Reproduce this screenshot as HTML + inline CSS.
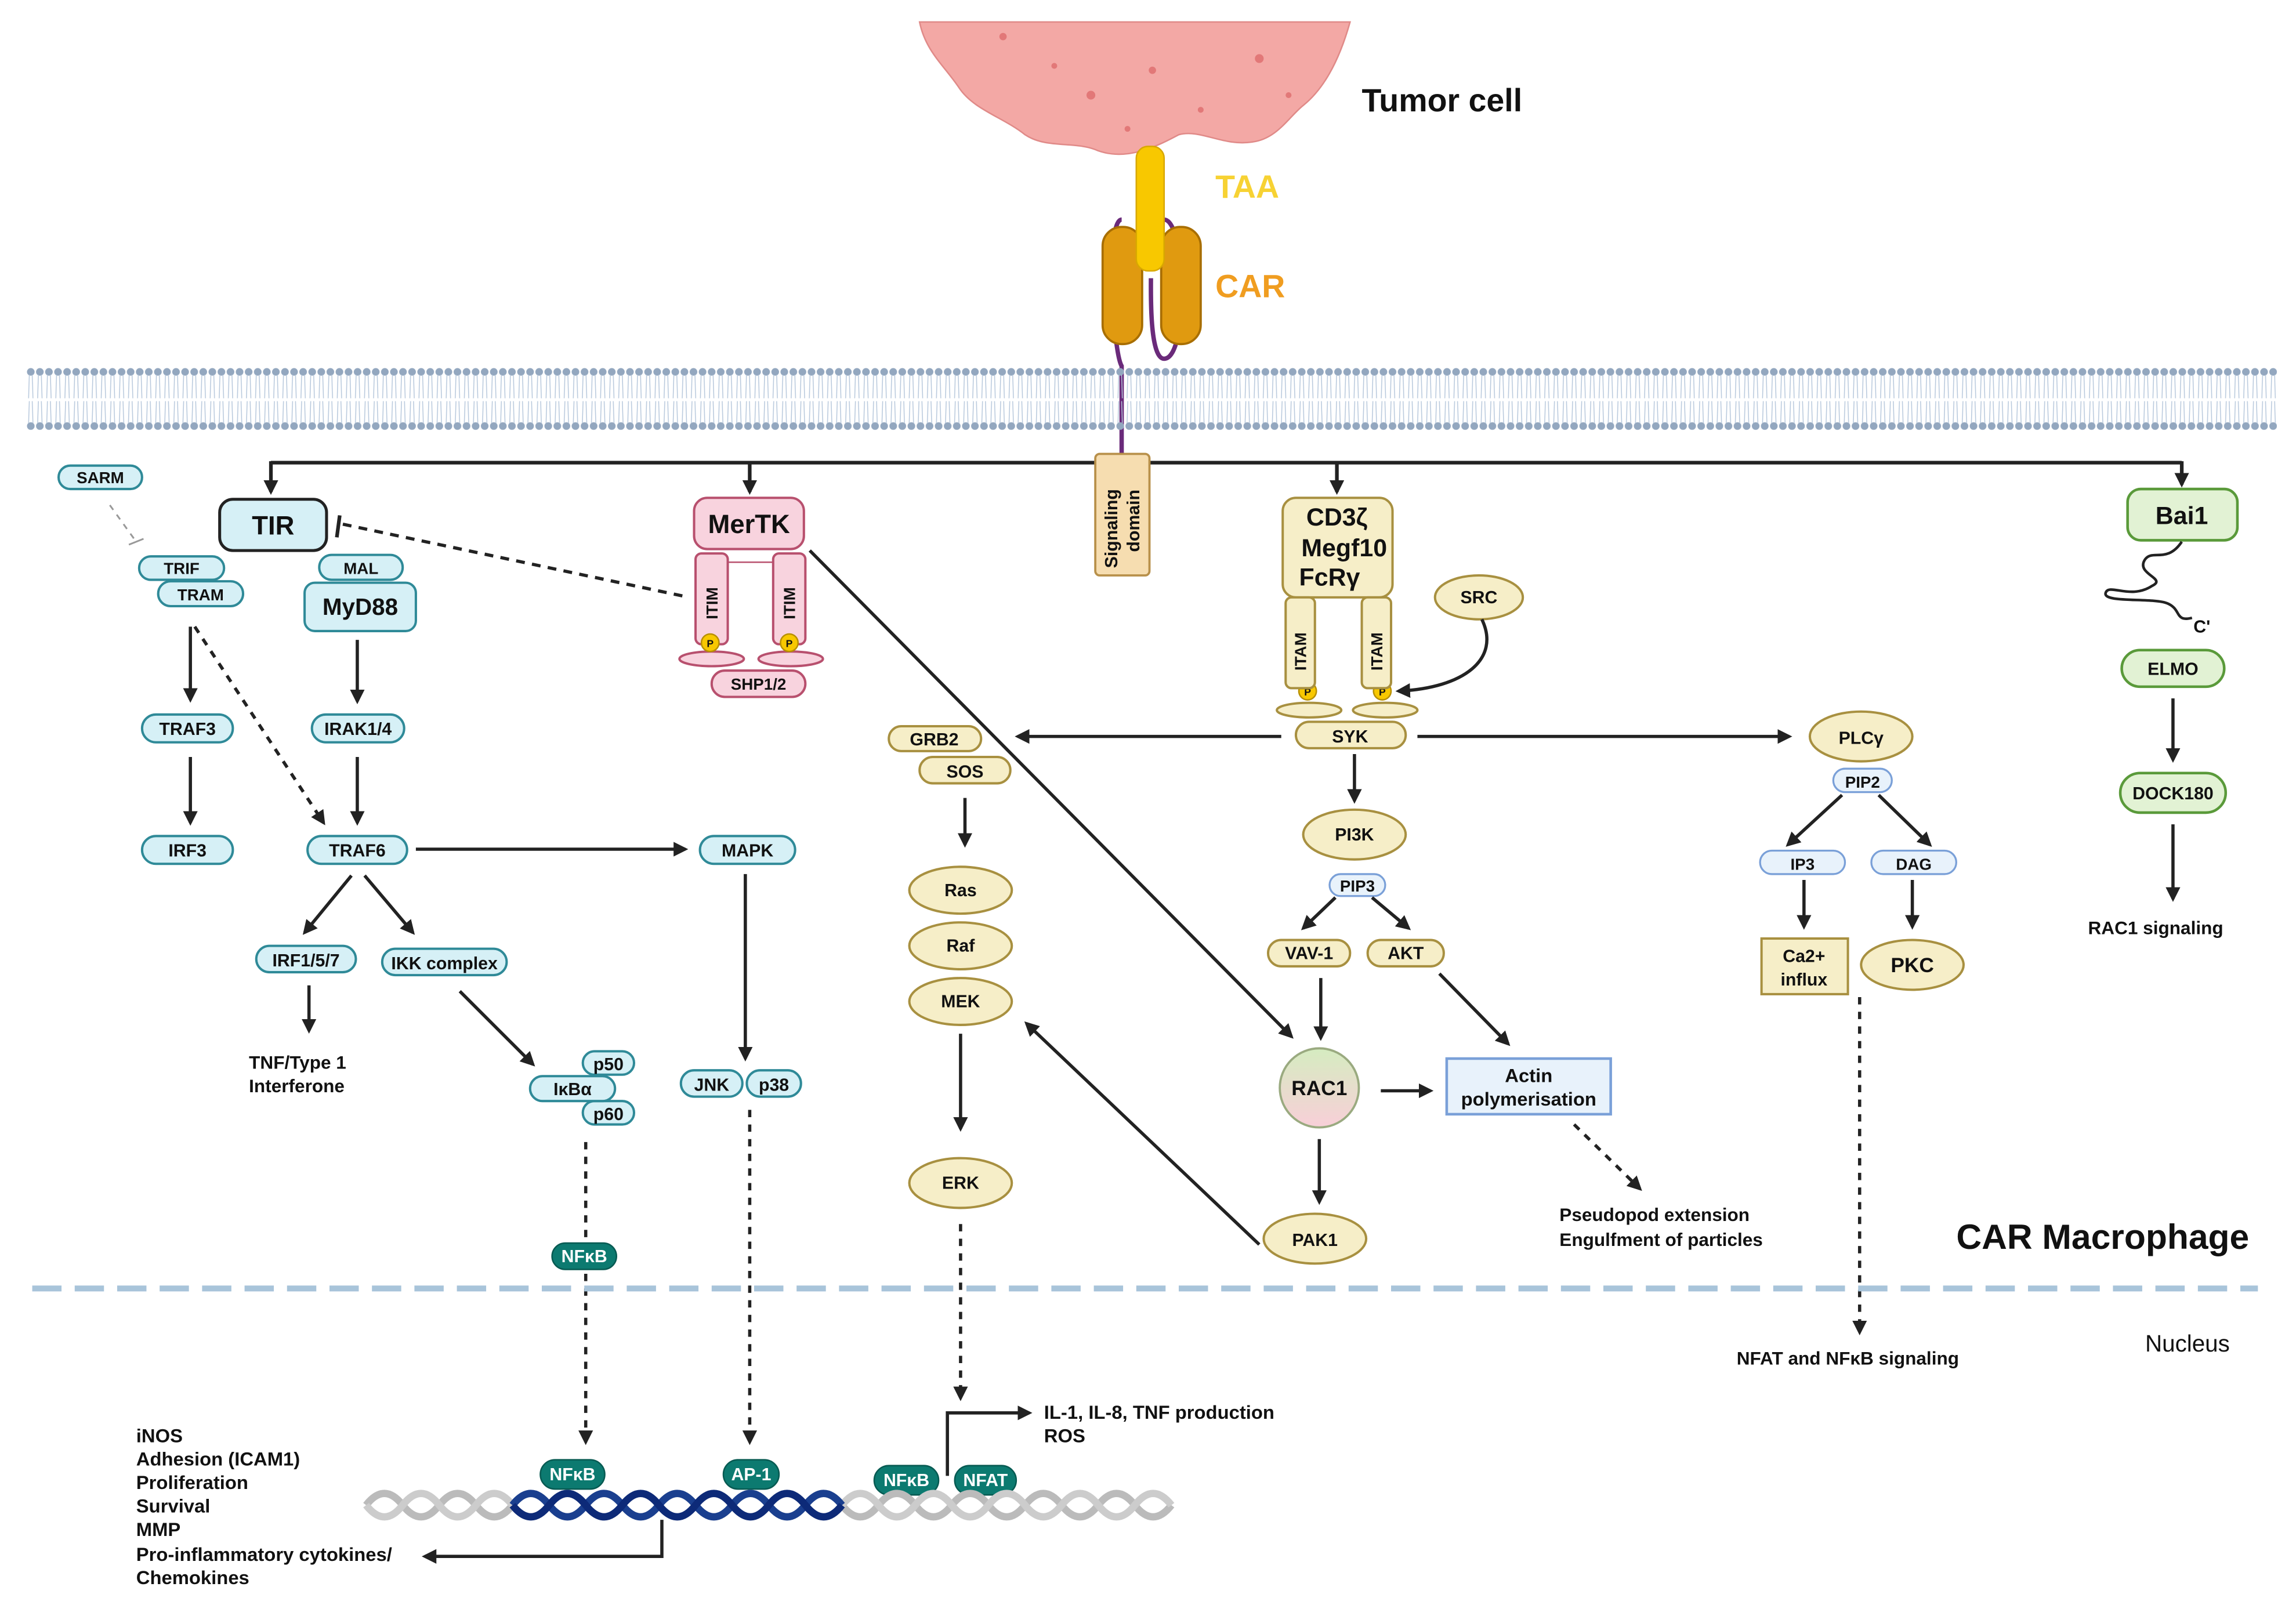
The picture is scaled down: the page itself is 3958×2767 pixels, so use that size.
<!DOCTYPE html>
<html><head><meta charset="utf-8"><style>
html,body{margin:0;padding:0;background:#fff}
svg{display:block}
text{font-family:"Liberation Sans",sans-serif;font-weight:bold;fill:#111}
</style></head><body>
<svg width="3958" height="2767" viewBox="0 0 1568 1096.2" xmlns="http://www.w3.org/2000/svg">
<defs>
<marker id="a" markerWidth="10" markerHeight="10" refX="8" refY="5" orient="auto" markerUnits="userSpaceOnUse"><path d="M0,0 L10,5 L0,10 z" fill="#222"/></marker>
<marker id="ag" markerWidth="8" markerHeight="8" refX="6" refY="4" orient="auto" markerUnits="userSpaceOnUse"><path d="M0,0 L8,4 L0,8 z" fill="#999"/></marker>
<pattern id="mem" width="6.2" height="46" patternUnits="userSpaceOnUse" x="18" y="250">
<circle cx="3" cy="4" r="2.6" fill="#93a7bf"/><circle cx="3" cy="41" r="2.6" fill="#93a7bf"/>
<path d="M2,6 L1.5,22 M4,6 L4.5,22 M2,24 L1.5,39 M4,24 L4.5,39" stroke="#b7c8dc" stroke-width="0.6"/>
</pattern>
<linearGradient id="rac" x1="0" y1="0" x2="0" y2="1"><stop offset="0" stop-color="#d5ecc0"/><stop offset="1" stop-color="#f8cfd8"/></linearGradient>
</defs>

<!-- tumor cell -->
<path d="M628,15 L922,15 C915,40 905,60 890,72 C880,80 872,95 855,97 C835,100 820,88 805,92 C790,100 770,110 750,103 C735,96 715,102 700,92 C685,80 665,75 655,60 C645,45 632,35 628,15 z" fill="#f3a8a5" stroke="#e08a88" stroke-width="1"/>
<g fill="#e27878"><circle cx="745" cy="65" r="3"/><circle cx="787" cy="48" r="2.5"/><circle cx="860" cy="40" r="3"/><circle cx="820" cy="75" r="2"/><circle cx="685" cy="25" r="2.5"/><circle cx="720" cy="45" r="2"/><circle cx="880" cy="65" r="2"/><circle cx="770" cy="88" r="2"/></g>
<text x="930" y="76" font-size="22">Tumor cell</text>

<!-- CAR -->
<path d="M766,150 C755,150 760,240 766,250 L766,312" stroke="#6a2a7a" stroke-width="3" fill="none"/>
<path d="M795,150 C810,150 812,245 795,245 C785,245 786,200 786,190" stroke="#6a2a7a" stroke-width="3" fill="none"/>
<rect x="753" y="155" width="27" height="80" rx="13" fill="#e09a10" stroke="#a86e00" stroke-width="1.5"/>
<rect x="793" y="155" width="27" height="80" rx="13" fill="#e09a10" stroke="#a86e00" stroke-width="1.5"/>
<rect x="776" y="100" width="19" height="85" rx="8" fill="#f8c800" stroke="#d8a800"/>
<text x="830" y="135" font-size="22" style="fill:#f7d233">TAA</text>
<text x="830" y="203" font-size="22" style="fill:#f09d20">CAR</text>

<!-- membrane -->
<rect x="18" y="250" width="1537" height="46" fill="url(#mem)"/>

<!-- top distribution line -->
<path d="M185,316 L1490,316" stroke="#222" stroke-width="2.5" fill="none"/>
<g stroke="#222" stroke-width="2.5" marker-end="url(#a)"><path d="M185,315 V336"/><path d="M512,315 V336"/><path d="M913,315 V336"/><path d="M1490,315 V331"/></g>

<!-- signaling domain -->
<rect x="748" y="310" width="37" height="83" rx="3" fill="#f6ddb0" stroke="#b8904a" stroke-width="1.5"/>
<text transform="translate(763,388) rotate(-90)" font-size="12">Signaling</text>
<text transform="translate(778,377) rotate(-90)" font-size="12">domain</text>

<!-- Left blue column -->
<g stroke="#2f8a98" stroke-width="1.6" fill="#d6f0f6">
<rect x="40" y="318" width="57" height="16" rx="8"/>
<rect x="150" y="341" width="73" height="35" rx="9" stroke="#222" stroke-width="2"/>
<rect x="95" y="380" width="58" height="16" rx="8"/>
<rect x="108" y="397" width="58" height="17" rx="8.5"/>
<rect x="218" y="379" width="57" height="17" rx="8.5"/>
<rect x="208" y="398" width="76" height="33" rx="7"/>
<rect x="97" y="488" width="62" height="19" rx="9.5"/>
<rect x="97" y="571" width="62" height="19" rx="9.5"/>
<rect x="213" y="488" width="63" height="19" rx="9.5"/>
<rect x="210" y="571" width="68" height="19" rx="9.5"/>
<rect x="478" y="571" width="65" height="19" rx="9.5"/>
<rect x="175" y="646" width="68" height="18" rx="9"/>
<rect x="261" y="648" width="85" height="18" rx="9"/>
<rect x="398" y="718" width="35" height="16" rx="8"/>
<rect x="398" y="752" width="35" height="16" rx="8"/>
<rect x="362" y="735" width="58" height="17" rx="8.5"/>
<rect x="465" y="731" width="42" height="18" rx="9"/>
<rect x="510" y="731" width="37" height="18" rx="9"/>
</g>
<g font-size="12" text-anchor="middle">
<text x="68.5" y="330" font-size="11">SARM</text>
<text x="186.5" y="365" font-size="18">TIR</text>
<text x="124" y="392" font-size="11">TRIF</text>
<text x="137" y="410" font-size="11">TRAM</text>
<text x="246.5" y="392" font-size="11">MAL</text>
<text x="246" y="420" font-size="16">MyD88</text>
<text x="128" y="502">TRAF3</text>
<text x="128" y="585">IRF3</text>
<text x="244.5" y="502">IRAK1/4</text>
<text x="244" y="585">TRAF6</text>
<text x="510.5" y="585">MAPK</text>
<text x="209" y="660">IRF1/5/7</text>
<text x="303.5" y="662">IKK complex</text>
<text x="415.5" y="731">p50</text>
<text x="415.5" y="765">p60</text>
<text x="391" y="748">IκBα</text>
<text x="486" y="745">JNK</text>
<text x="528.5" y="745">p38</text>
</g>
<path d="M75,345 L93,370" stroke="#999" stroke-width="1.2" stroke-dasharray="4,4"/>
<path d="M88,372 L98,368" stroke="#999" stroke-width="1.2"/>
<path d="M466,407 L234,358" stroke="#222" stroke-width="2.2" stroke-dasharray="6,5"/>
<path d="M232,352 L230,367" stroke="#222" stroke-width="2.5"/>

<g stroke="#222" stroke-width="2.2" fill="none" marker-end="url(#a)">
<path d="M130,428 V478"/><path d="M130,517 V562"/>
<path d="M244,437 V479"/><path d="M244,517 V562"/>
<path d="M284,580 H468"/>
<path d="M240,598 L208,637"/><path d="M249,598 L282,637"/>
<path d="M211,673 V704"/>
<path d="M314,677 L364,727"/>
<path d="M509,597 V723"/>
</g>
<g stroke="#222" stroke-width="2.2" fill="none" stroke-dasharray="5,5" marker-end="url(#a)">
<path d="M133,428 L221,562"/>
<path d="M400,780 V985"/>
<path d="M512,758 V985"/>
</g>
<text x="170" y="730" font-size="12.5">TNF/Type 1</text>
<text x="170" y="746" font-size="12.5">Interferone</text>

<!-- green NFkB etc -->
<g fill="#0c7a70" stroke="#075a52" stroke-width="1">
<rect x="377" y="849" width="44" height="18" rx="9"/>
<rect x="369" y="997" width="44" height="20" rx="10"/>
<rect x="494" y="997" width="38" height="20" rx="10"/>
<rect x="597" y="1001" width="44" height="20" rx="10"/>
<rect x="652" y="1001" width="42" height="20" rx="10"/>
</g>
<g font-size="12" text-anchor="middle" style="fill:#fff">
<text x="399" y="862" style="fill:#fff">NFκB</text>
<text x="391" y="1011" style="fill:#fff">NFκB</text>
<text x="513" y="1011" style="fill:#fff">AP-1</text>
<text x="619" y="1015" style="fill:#fff">NFκB</text>
<text x="673" y="1015" style="fill:#fff">NFAT</text>
</g>

<!-- MerTK -->
<g fill="#f8d3de" stroke="#b8506e" stroke-width="1.6">
<rect x="474" y="340" width="75" height="35" rx="9"/>
<rect x="475" y="378" width="22" height="62" rx="4"/>
<rect x="528" y="378" width="22" height="62" rx="4"/>
<ellipse cx="486" cy="450" rx="22" ry="5"/>
<ellipse cx="540" cy="450" rx="22" ry="5"/>
<rect x="486" y="458" width="64" height="18" rx="9"/>
</g>
<path d="M497,384 H528" stroke="#b8506e" stroke-width="1"/>
<text x="511.5" y="364" font-size="18" text-anchor="middle">MerTK</text>
<text transform="translate(490,423) rotate(-90)" font-size="11">ITIM</text>
<text transform="translate(543,423) rotate(-90)" font-size="11">ITIM</text>
<text x="518" y="471" font-size="11" text-anchor="middle">SHP1/2</text>
<g fill="#f8c800" stroke="#b89000"><circle cx="485" cy="439" r="6"/><circle cx="539" cy="439" r="6"/><circle cx="893" cy="472" r="6"/><circle cx="944" cy="472" r="6"/></g>
<g font-size="7" text-anchor="middle"><text x="485" y="442">P</text><text x="539" y="442">P</text><text x="893" y="475">P</text><text x="944" y="475">P</text></g>
<path d="M553,376 L882,708" stroke="#222" stroke-width="2.2" marker-end="url(#a)"/>

<!-- CD3z -->
<g fill="#f6eec8" stroke="#a89040" stroke-width="1.6">
<rect x="876" y="340" width="75" height="68" rx="9"/>
<rect x="878" y="408" width="20" height="62" rx="4"/>
<rect x="930" y="408" width="20" height="62" rx="4"/>
<ellipse cx="894" cy="485" rx="22" ry="5"/>
<ellipse cx="946" cy="485" rx="22" ry="5"/>
<ellipse cx="1010" cy="408" rx="30" ry="15"/>
<rect x="885" y="493" width="75" height="18" rx="9"/>
<rect x="607" y="496" width="63" height="17" rx="8.5"/>
<rect x="628" y="517" width="62" height="18" rx="9"/>
<ellipse cx="656" cy="608" rx="35" ry="16"/>
<ellipse cx="656" cy="646" rx="35" ry="16"/>
<ellipse cx="656" cy="684" rx="35" ry="16"/>
<ellipse cx="656" cy="808" rx="35" ry="17"/>
<ellipse cx="925" cy="570" rx="35" ry="17"/>
<rect x="866" y="642" width="56" height="18" rx="9"/>
<rect x="934" y="642" width="52" height="18" rx="9"/>
<ellipse cx="898" cy="846" rx="35" ry="17"/>
<ellipse cx="1271" cy="503" rx="35" ry="17"/>
<ellipse cx="1306" cy="659" rx="35" ry="17"/>
<rect x="1203" y="641" width="59" height="38"/>
</g>
<g fill="#e8f2fb" stroke="#7aa0d8" stroke-width="1.3">
<rect x="908" y="597" width="38" height="15" rx="7.5"/>
<rect x="1252" y="525" width="40" height="16" rx="8"/>
<rect x="1202" y="581" width="58" height="16" rx="8"/>
<rect x="1278" y="581" width="58" height="16" rx="8"/>
<rect x="988" y="723" width="112" height="38" stroke-width="1.8"/>
</g>
<g font-size="17" text-anchor="middle"><text x="913" y="359">CD3ζ</text><text x="918" y="380">Megf10</text><text x="908" y="400">FcRγ</text></g>
<text transform="translate(892,458) rotate(-90)" font-size="11">ITAM</text>
<text transform="translate(944,458) rotate(-90)" font-size="11">ITAM</text>
<g font-size="12" text-anchor="middle">
<text x="1010" y="412">SRC</text>
<text x="922" y="507">SYK</text>
<text x="638" y="509">GRB2</text>
<text x="659" y="531">SOS</text>
<text x="656" y="612">Ras</text><text x="656" y="650">Raf</text><text x="656" y="688">MEK</text><text x="656" y="812">ERK</text>
<text x="925" y="574">PI3K</text>
<text x="927" y="609" font-size="11">PIP3</text>
<text x="894" y="655">VAV-1</text>
<text x="960" y="655">AKT</text>
<text x="898" y="851">PAK1</text>
<text x="1271" y="508">PLCγ</text>
<text x="1272" y="538" font-size="11">PIP2</text>
<text x="1231" y="594" font-size="11">IP3</text>
<text x="1307" y="594" font-size="11">DAG</text>
<text x="1232" y="657">Ca2+</text><text x="1232" y="673">influx</text>
<text x="1306" y="664" font-size="14">PKC</text>
<text x="1044" y="739" font-size="13">Actin</text><text x="1044" y="755" font-size="13">polymerisation</text>
</g>
<circle cx="901" cy="743" r="27" fill="url(#rac)" stroke="#9aaa80" stroke-width="1.5"/>
<text x="901" y="748" font-size="14" text-anchor="middle">RAC1</text>

<g stroke="#222" stroke-width="2.2" fill="none" marker-end="url(#a)">
<path d="M1012,423 C1025,450 1000,470 955,472"/>
<path d="M875,503 H695"/><path d="M968,503 H1222"/>
<path d="M659,545 V577"/><path d="M656,706 V771"/>
<path d="M860,850 L701,699"/>
<path d="M925,515 V547"/>
<path d="M912,613 L890,634"/><path d="M937,613 L962,634"/>
<path d="M902,668 V709"/><path d="M983,665 L1030,713"/>
<path d="M943,745 H977"/>
<path d="M901,778 V821"/>
<path d="M1258,543 L1221,577"/><path d="M1283,543 L1318,577"/>
<path d="M1232,601 V633"/><path d="M1306,601 V633"/>
<path d="M1484,477 V519"/><path d="M1484,563 V614"/>
<path d="M647,1008 V965 H703"/>
<path d="M452,1038 V1063 H290"/>
</g>
<g stroke="#222" stroke-width="2.2" fill="none" stroke-dasharray="5,5" marker-end="url(#a)">
<path d="M656,836 V955"/>
<path d="M1075,768 L1120,812"/>
<path d="M1270,681 V910"/>
</g>
<text x="1065" y="834" font-size="12.5">Pseudopod extension</text>
<text x="1065" y="851" font-size="12.5">Engulfment of particles</text>
<text x="1186" y="932" font-size="12.5">NFAT and NFκB signaling</text>

<!-- Bai1 -->
<g fill="#e2f2d4" stroke="#5a9a3a" stroke-width="1.8">
<rect x="1453" y="334" width="75" height="35" rx="9"/>
<rect x="1449" y="444" width="70" height="25" rx="12.5"/>
<rect x="1448" y="528" width="72" height="27" rx="13.5"/>
</g>
<text x="1490" y="358" font-size="17" text-anchor="middle">Bai1</text>
<text x="1484" y="461" font-size="12" text-anchor="middle">ELMO</text>
<text x="1484" y="546" font-size="12" text-anchor="middle">DOCK180</text>
<path d="M1490,370 C1480,385 1470,375 1465,382 C1458,392 1480,395 1470,400 C1455,410 1440,398 1438,405 C1436,412 1470,408 1480,412 C1490,416 1485,425 1497,422" stroke="#222" stroke-width="1.8" fill="none"/>
<text x="1498" y="432" font-size="12">C'</text>
<text x="1426" y="638" font-size="12.5">RAC1 signaling</text>

<!-- nucleus line -->
<path d="M22,880 H1542" stroke="#a8c4da" stroke-width="4" stroke-dasharray="20,9"/>
<text x="1336" y="853" font-size="24">CAR Macrophage</text>
<text x="1465" y="923" font-size="16" style="font-weight:normal">Nucleus</text>

<!-- DNA -->
<g fill="none" stroke-width="5">
<path d="M250,1028 q12.5,-16 25,0 t25,0 t25,0 t25,0 t25,0 t25,0 t25,0 t25,0 t25,0 t25,0 t25,0 t25,0 t25,0 t25,0 t25,0 t25,0 t25,0 t25,0 t25,0 t25,0 t25,0 t25,0" stroke="#bbb"/>
<path d="M250,1028 q12.5,16 25,0 t25,0 t25,0 t25,0 t25,0 t25,0 t25,0 t25,0 t25,0 t25,0 t25,0 t25,0 t25,0 t25,0 t25,0 t25,0 t25,0 t25,0 t25,0 t25,0 t25,0 t25,0" stroke="#ccc"/>
<path d="M350,1028 q12.5,-16 25,0 t25,0 t25,0 t25,0 t25,0 t25,0 t25,0 t25,0 t25,0" stroke="#1a3f8f"/>
<path d="M350,1028 q12.5,16 25,0 t25,0 t25,0 t25,0 t25,0 t25,0 t25,0 t25,0 t25,0" stroke="#0d2a78"/>
</g>
<g font-size="13">
<text x="713" y="969">IL-1, IL-8, TNF production</text><text x="713" y="985">ROS</text>
<text x="93" y="985">iNOS</text><text x="93" y="1001">Adhesion (ICAM1)</text><text x="93" y="1017">Proliferation</text><text x="93" y="1033">Survival</text><text x="93" y="1049">MMP</text><text x="93" y="1066">Pro-inflammatory cytokines/</text><text x="93" y="1082">Chemokines</text>
</g>
</svg>
</body></html>
